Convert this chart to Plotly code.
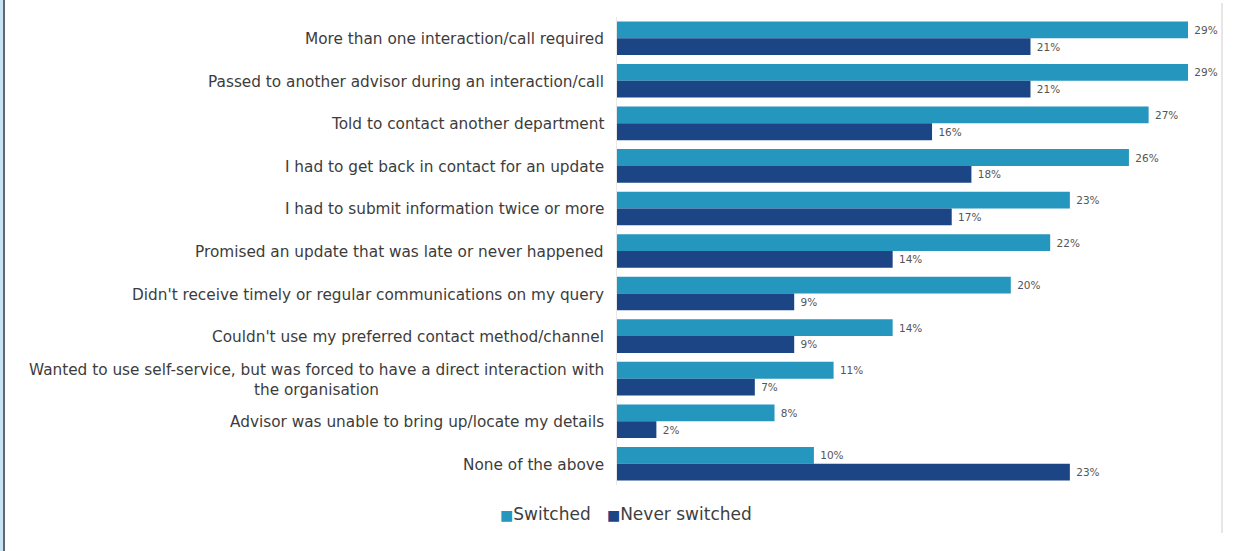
import plotly.graph_objects as go

categories = [
    "More than one interaction/call required",
    "Passed to another advisor during an interaction/call",
    "Told to contact another department",
    "I had to get back in contact for an update",
    "I had to submit information twice or more",
    "Promised an update that was late or never happened",
    "Didn't receive timely or regular communications on my query",
    "Couldn't use my preferred contact method/channel",
    "Wanted to use self-service, but was forced to have a direct interaction with<br>the organisation",
    "Advisor was unable to bring up/locate my details",
    "None of the above",
]
switched = [29, 29, 27, 26, 23, 22, 20, 14, 11, 8, 10]
never_switched = [21, 21, 16, 18, 17, 14, 9, 9, 7, 2, 23]
series_names = ["Switched", "Never switched"]
series_colors = ["#2596be", "#1b4585"]

W, H = 1249, 551
L, R, T, B = 617, 27, 17, 66
plot_w = W - L - R
plot_h = H - T - B

FONT = "DejaVu Sans"
LABEL_COLOR = "#3c3c3c"

fig = go.Figure()
for name, vals, col in zip(series_names, [switched, never_switched], series_colors):
    fig.add_trace(go.Bar(
        y=categories, x=vals, orientation="h", name=name,
        marker=dict(color=col, line=dict(width=0)),
        texttemplate=" %{x}%", textposition="outside", cliponaxis=False,
        textfont=dict(size=10.5, color="#555555", family=FONT),
        showlegend=False,
    ))

# Category labels as annotations so wrapped lines are centred
for c in categories:
    fig.add_annotation(
        x=0, xref="paper", y=c, yref="y", text=c, showarrow=False,
        xanchor="right", xshift=-11, yshift=-1, align="center",
        font=dict(size=15.3, color=LABEL_COLOR, family=FONT),
    )

def px_x(p):
    return (p - L) / plot_w

def px_y(p):
    return (H - B - p) / plot_h

# Legend drawn as text with small coloured square glyphs
legend_text = "   ".join(
    f"<span style='color:{c};font-size:14px'>■</span>{n}"
    for n, c in zip(series_names, series_colors)
)
fig.add_annotation(
    x=px_x(626), xref="paper", y=px_y(514), yref="paper", text=legend_text,
    showarrow=False, xanchor="center", yanchor="middle",
    font=dict(size=17, color="#404040", family=FONT),
)

shapes = [
    # light blue strip and dark rule on the left edge
    dict(type="rect", xref="paper", yref="paper", x0=px_x(0), x1=px_x(3),
         y0=px_y(H), y1=px_y(0), fillcolor="#c6e4f4", line=dict(width=0), layer="below"),
    dict(type="line", xref="paper", yref="paper", x0=px_x(4), x1=px_x(4),
         y0=px_y(H), y1=px_y(0), line=dict(color="#2b3340", width=1.5)),
    # light grey frame line on the right
    dict(type="line", xref="paper", yref="paper", x0=px_x(1222), x1=px_x(1222),
         y0=px_y(533), y1=px_y(3), line=dict(color="#d6d6d6", width=1.2)),
]

fig.update_layout(
    width=W, height=H,
    margin=dict(l=L, r=R, t=T, b=B),
    paper_bgcolor="white", plot_bgcolor="white",
    barmode="group", bargap=0.21, bargroupgap=0,
    shapes=shapes,
    xaxis=dict(range=[0, plot_w / 19.69], visible=False, fixedrange=True),
    yaxis=dict(type="category", range=[10.5, -0.5], showticklabels=False,
               showgrid=False, zeroline=False, showline=True,
               linecolor="#e8e8e8", linewidth=1, ticks=""),
    showlegend=False,
)

fig.write_html("out.html")
